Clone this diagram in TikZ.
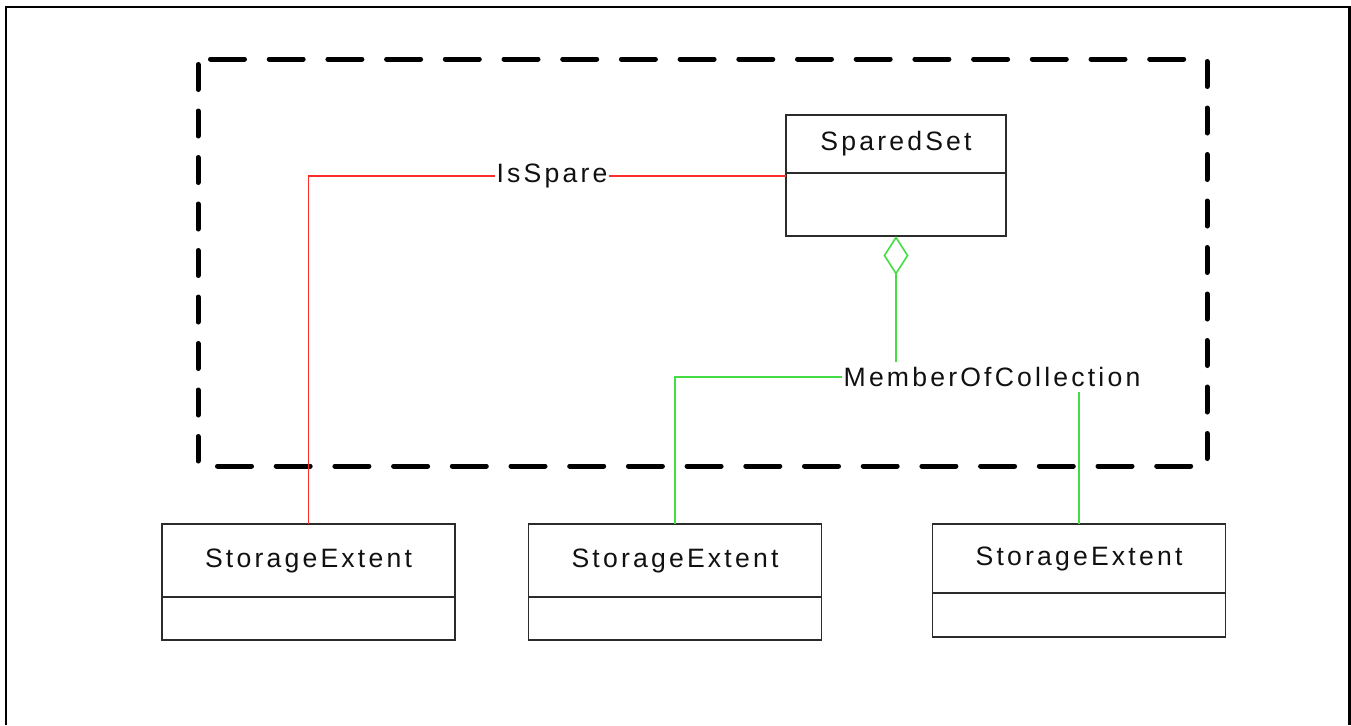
\documentclass[tikz,border=0pt]{standalone}
\usepackage{fontspec}
\newfontfamily\umlfont{Liberation Sans}[LetterSpace=12]
\usepackage{xcolor}
\definecolor{cLine}{HTML}{2B2B2B}
\definecolor{cText}{HTML}{111111}
\definecolor{cSpare}{HTML}{FF2A2A}
\definecolor{cMember}{HTML}{44DD44}
\usetikzlibrary{positioning,arrows.meta}
\tikzset{
  class-head/.style={draw=cLine,line width=0.6pt,inner sep=0pt,outer sep=0pt,
    minimum width=146.5pt,minimum height=36.5pt,text=cText,
    font=\umlfont\fontsize{13.3}{16}\selectfont},
  class-body/.style={draw=cLine,line width=0.6pt,inner sep=0pt,outer sep=0pt,
    minimum width=146.5pt,minimum height=21.5pt},
  assoc-label/.style={inner xsep=1pt,inner ysep=2.5pt,outer sep=0pt,text=cText,
    font=\umlfont\fontsize{13.3}{16}\selectfont},
  link-spare/.style={draw=cSpare,line width=0.6pt},
  link-member/.style={draw=cMember,line width=0.8pt},
  link-agg/.style={link-member,-{Diamond[open,length=19.5pt,width=12.5pt]}},
  frame/.style={draw=black,line width=1.2pt},
  % dashed group outline: horizontal and vertical sides use their own dash
  group-h/.style={draw=black,line width=2.5pt,line cap=round,
    dash pattern=on 17pt off 12.35pt},
  group-v/.style={draw=black,line width=2.5pt,line cap=round,
    dash pattern=on 12.5pt off 10.75pt},
}

\begin{document}
\begin{tikzpicture}[x=0.5pt,y=-0.5pt]
  \useasboundingbox (0,0) rectangle (1351,725);
  \draw[frame] (6,725) -- (6,7) -- (1349.5,7) -- (1349.5,725);

  % group outline
  \draw[group-h] (210.5,59) -- (1184.5,59);
  \draw[group-h] (217.5,466) -- (1191.5,466);
  \draw[group-v] (198,64.5) -- (198,461);
  \draw[group-v] (1207,61.5) -- (1207,459);

  % classes
  \node[class-head,minimum width=110pt,minimum height=29pt] (spared-head) at (896,144) {SparedSet};
  \node[class-body,minimum width=110pt,minimum height=31.5pt,below=0pt of spared-head] (spared-body) {};
  \node[class-head] (ext-a-head) at (308.5,560.5) {StorageExtent};
  \node[class-body,below=0pt of ext-a-head] (ext-a-body) {};
  \node[class-head] (ext-b-head) at (675,560.5) {StorageExtent};
  \node[class-body,below=0pt of ext-b-head] (ext-b-body) {};
  \node[class-head,minimum height=34.5pt] (ext-c-head) at (1079,558.5) {StorageExtent};
  \node[class-body,minimum height=22pt,below=0pt of ext-c-head] (ext-c-body) {};

  % associations
  \node[assoc-label] (isspare) at (552,176) {IsSpare};
  \node[assoc-label] (member) at (992,377) {MemberOfCollection};

  \draw[link-spare] (spared-body.west |- isspare.east) -- (isspare.east);
  \draw[link-spare] (isspare.west) -- (ext-a-head.north |- isspare.west) -- (ext-a-head.north);
  \draw[link-agg] (spared-body.south |- member.north) -- (spared-body.south);
  \draw[link-member] (member.west) -- (ext-b-head.north |- member.west) -- (ext-b-head.north);
  \draw[link-member] (ext-c-head.north |- member.south) -- (ext-c-head.north);
\end{tikzpicture}
\end{document}
